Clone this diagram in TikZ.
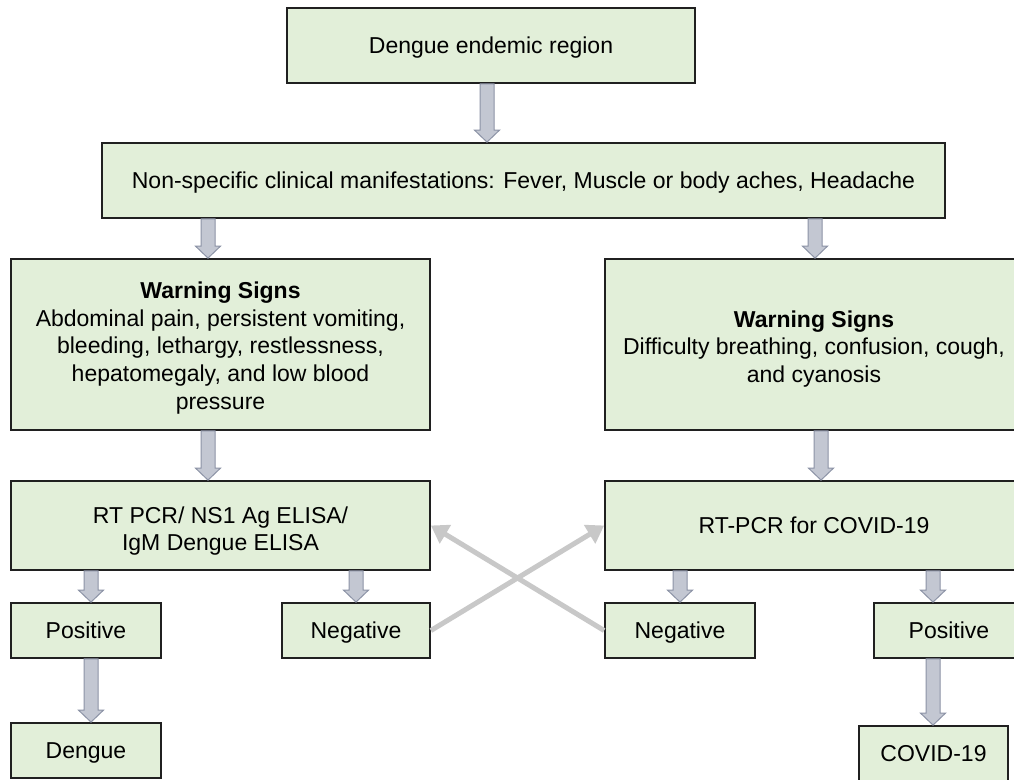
\documentclass[tikz,border=0pt]{standalone}
\usepackage{fontspec}
\setmainfont{Liberation Sans}
\usetikzlibrary{arrows.meta,calc}
\definecolor{boxgreen}{HTML}{E2EFD9}
\definecolor{boxline}{HTML}{202020}
\definecolor{barfill}{HTML}{C3C7D2}
\definecolor{barline}{HTML}{8C93A6}
\definecolor{xgray}{HTML}{C8C8C8}
\newcommand\firstht[1]{\rule{0pt}{#1}}
\newcommand\barrow[3]{%
  \draw[blockarrow] let \p1=(#2.south), \p2=(#3.north) in
    (#1pt-7pt,\y1) -- (#1pt+7pt,\y1) -- (#1pt+7pt,\y2+12pt) -- (#1pt+12.5pt,\y2+12pt)
    -- (#1pt,\y2) -- (#1pt-12.5pt,\y2+12pt) -- (#1pt-7pt,\y2+12pt) -- cycle;}
\begin{document}
\begin{tikzpicture}[x=1pt,y=-1pt,
  box/.style={draw=boxline, line width=1.8pt, fill=boxgreen, align=center,
    inner sep=0pt, font=\fontsize{23}{27.75}\selectfont},
  oneline/.style={text height=16.5pt, text depth=0pt},
  blockarrow/.style={fill=barfill, draw=barline, line width=1pt, line join=miter},
  xarrow/.style={draw=xgray, line width=5pt, -{Triangle[length=17pt,width=21pt]}}]
\useasboundingbox (0,0) rectangle (1014,779);
\fill[white] (0,0) rectangle (1014,779);
\clip (0,0) rectangle (1014,779);

\node[box, oneline, minimum width=408, minimum height=75] (top) at (491,45.5) {Dengue endemic region};
\node[box, oneline, minimum width=843, minimum height=75] (mid) at (523.5,180.5)
  {Non-specific clinical manifestations: Fever, Muscle or body aches, Headache};
\node[box, minimum width=419, minimum height=171] (wl) at (220.5,344.5)
  {\firstht{23.4pt}\textbf{Warning Signs}\\Abdominal pain, persistent vomiting,\\bleeding, lethargy, restlessness,\\hepatomegaly, and low blood\\pressure};
\node[box, minimum width=418, minimum height=171] (wr) at (814,344.5)
  {\firstht{25.4pt}\textbf{Warning Signs}\\Difficulty breathing, confusion, cough,\\and cyanosis};
\node[box, minimum width=419, minimum height=89] (rtl) at (220.5,525.5)
  {\firstht{28pt}RT PCR/ NS1 Ag ELISA/\\IgM Dengue ELISA};
\node[box, oneline, minimum width=418, minimum height=89] (rtr) at (814,525.5)
  {RT-PCR for COVID-19};
\node[box, oneline, minimum width=150, minimum height=55] (posl) at (86,630.5) {Positive};
\node[box, oneline, minimum width=148, minimum height=55] (negl) at (356,630.5) {Negative};
\node[box, oneline, minimum width=150, minimum height=55] (negr) at (680,630.5) {Negative};
\node[box, oneline, minimum width=150, minimum height=55] (posr) at (949,630.5) {Positive};
\node[box, oneline, minimum width=150, minimum height=55] (dengue) at (86,750.5) {Dengue};
\node[box, oneline, minimum width=149, minimum height=55] (covid) at (933.5,753.5) {COVID-19};

\barrow{487}{top}{mid}
\barrow{208}{mid}{wl}
\barrow{815}{mid}{wr}
\barrow{208}{wl}{rtl}
\barrow{821}{wr}{rtr}
\barrow{91}{rtl}{posl}
\barrow{356}{rtl}{negl}
\barrow{680}{rtr}{negr}
\barrow{933}{rtr}{posr}
\barrow{91}{posl}{dengue}
\barrow{933}{posr}{covid}

\draw[xarrow] (negl.east) -- (rtr.west);
\draw[xarrow] (negr.west) -- (rtl.east);
\end{tikzpicture}
\end{document}
